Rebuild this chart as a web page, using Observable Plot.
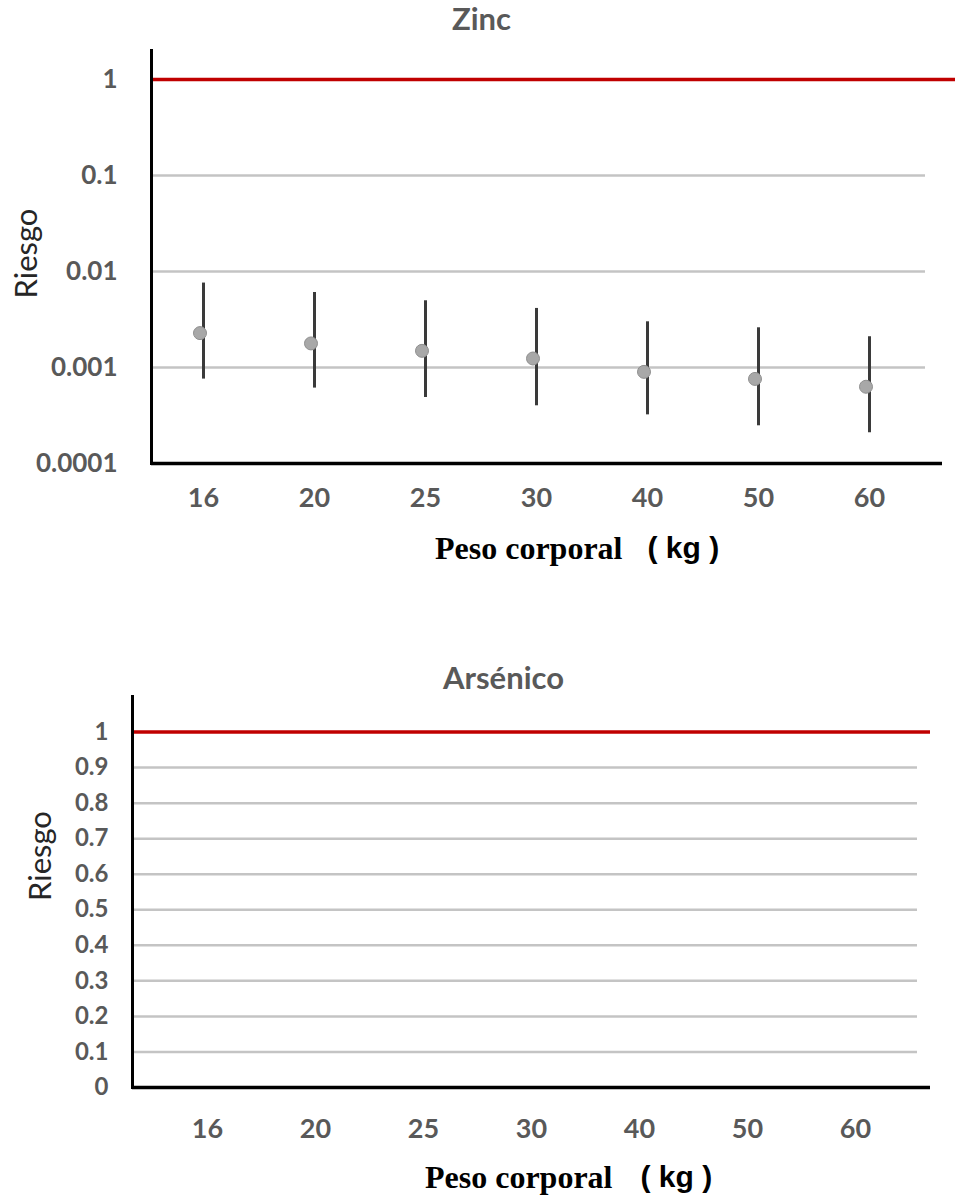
<!DOCTYPE html>
<html>
<head>
<meta charset="utf-8">
<script src="https://cdn.jsdelivr.net/npm/d3@7"></script>
<script src="https://cdn.jsdelivr.net/npm/@observablehq/plot@0.6"></script>
<style>
  body { margin: 0; background: #fff; }
  #chart svg { display: block; }
</style>
</head>
<body>
<div id="chart"></div>
<script>
// ---- Data ----
const pesos = ["16", "20", "25", "30", "40", "50", "60"];
const zincMedia = [0.00228, 0.00178, 0.00149, 0.00124, 0.00090, 0.00076, 0.00063];
const zincMin   = [0.000757, 0.00061, 0.000487, 0.000399, 0.000321, 0.000247, 0.000209];
const zincMax   = [0.00757, 0.00604, 0.00495, 0.00412, 0.00299, 0.00259, 0.00209];
const zincTicks = [1, 0.1, 0.01, 0.001, 0.0001];
const zincTickLabels = ["1", "0.1", "0.01", "0.001", "0.0001"];
const arsTicks = [0, 0.1, 0.2, 0.3, 0.4, 0.5, 0.6, 0.7, 0.8, 0.9, 1];
const arsTickLabels = ["0", "0.1", "0.2", "0.3", "0.4", "0.5", "0.6", "0.7", "0.8", "0.9", "1"];
const umbral = [1];
const titulos = ["Zinc", "Arsénico"];
const ejeY = "Riesgo";
const ejeX1 = "Peso corporal";
const ejeX2 = "( kg )";

const zinc = pesos.map((p, i) => ({peso: p, media: zincMedia[i], min: zincMin[i], max: zincMax[i]}));

const grey = "#595959";
const gridColor = "#c4c4c4";
const sans = "Lato, 'DejaVu Sans', sans-serif";

const zincPlot = Plot.plot({
  width: 955, height: 600,
  marginLeft: 151, marginRight: 30, marginTop: 50, marginBottom: 137,
  style: {fontFamily: sans, background: "white", overflow: "visible"},
  x: {type: "point", domain: pesos, padding: 0.471, align: 0.486, axis: null},
  y: {type: "log", domain: [1e-4, 2], axis: null},
  marks: [
    Plot.ruleY(zincTicks.slice(1), {stroke: gridColor, strokeWidth: 2.5}),
    Plot.ruleX(zinc, {x: "peso", y1: "min", y2: "max", stroke: "#3a3a3a", strokeWidth: 3}),
    Plot.dot(zinc, {x: "peso", y: "media", r: 6.5, fill: "#a8a8a8", stroke: "#8f8f8f", strokeWidth: 1, dx: -3.5}),
    Plot.ruleY(umbral, {stroke: "#c00000", strokeWidth: 3.5, insetRight: -30}),
    Plot.ruleY([zincTicks[zincTicks.length - 1]], {stroke: "black", strokeWidth: 3.5, insetRight: -17}),
    Plot.frame({anchor: "left", stroke: "black", strokeWidth: 3}),
    Plot.axisY({ticks: zincTicks, tickFormat: d => zincTickLabels[zincTicks.indexOf(d)], tickSize: 0, tickPadding: 34,
      fontSize: 26, fontWeight: "bold", color: grey, label: null}),
    Plot.axisX({tickSize: 0, tickPadding: 24, fontSize: 27, fontWeight: "bold", color: grey, label: null}),
    Plot.text([titulos[0]], {text: d => d, frameAnchor: "top", lineAnchor: "middle", dx: -57, dy: -30, fontSize: 31, fontWeight: "bold", fill: grey}),
    Plot.text([ejeY], {text: d => d, frameAnchor: "left", textAnchor: "middle", lineAnchor: "middle", rotate: -90, dx: -124, dy: -3.5, fontSize: 31, fill: "#262626"}),
    Plot.text([ejeX1], {text: d => d, frameAnchor: "bottom", textAnchor: "end", lineAnchor: "middle", dx: 84, dy: 85, fontSize: 32,
      fontFamily: "'Liberation Serif', serif", fontWeight: "bold", fill: "black"}),
    Plot.text([ejeX2], {text: d => d, frameAnchor: "bottom", textAnchor: "start", lineAnchor: "middle", dx: 109, dy: 85, fontSize: 30,
      fontFamily: "'Liberation Sans', sans-serif", fontWeight: "bold", fill: "black"})
  ]
});

const arsPlot = Plot.plot({
  width: 955, height: 603,
  marginLeft: 132, marginRight: 38, marginTop: 96, marginBottom: 116,
  style: {fontFamily: sans, background: "white", overflow: "visible"},
  x: {type: "point", domain: pesos, padding: 0.604, align: 0.544, axis: null},
  y: {type: "linear", domain: [0, 1.1], axis: null},
  marks: [
    Plot.ruleY(arsTicks.slice(0, -1), {stroke: gridColor, strokeWidth: 2.5}),
    Plot.ruleY(umbral, {stroke: "#c00000", strokeWidth: 3.5, insetRight: -13}),
    Plot.ruleY([arsTicks[0]], {stroke: "black", strokeWidth: 3.5, insetRight: -13}),
    Plot.frame({anchor: "left", stroke: "black", strokeWidth: 3}),
    Plot.axisY({ticks: arsTicks, tickFormat: d => arsTickLabels[arsTicks.indexOf(d)], tickSize: 0, tickPadding: 24,
      fontSize: 24, fontWeight: "bold", color: grey, label: null}),
    Plot.axisX({tickSize: 0, tickPadding: 31, fontSize: 27, fontWeight: "bold", color: grey, label: null}),
    Plot.text([titulos[1]], {text: d => d, frameAnchor: "top", lineAnchor: "middle", dx: -21.5, dy: -17, fontSize: 31, fontWeight: "bold", fill: grey}),
    Plot.text([ejeY], {text: d => d, frameAnchor: "left", textAnchor: "middle", lineAnchor: "middle", rotate: -90, dx: -91, dy: -36, fontSize: 31, fill: "#262626"}),
    Plot.text([ejeX1], {text: d => d, frameAnchor: "bottom", textAnchor: "end", lineAnchor: "middle", dx: 87.5, dy: 90, fontSize: 32,
      fontFamily: "'Liberation Serif', serif", fontWeight: "bold", fill: "black"}),
    Plot.text([ejeX2], {text: d => d, frameAnchor: "bottom", textAnchor: "start", lineAnchor: "middle", dx: 115.5, dy: 90, fontSize: 30,
      fontFamily: "'Liberation Sans', sans-serif", fontWeight: "bold", fill: "black"})
  ]
});

const chart = document.getElementById("chart");
chart.appendChild(zincPlot);
chart.appendChild(arsPlot);
</script>
</body>
</html>
